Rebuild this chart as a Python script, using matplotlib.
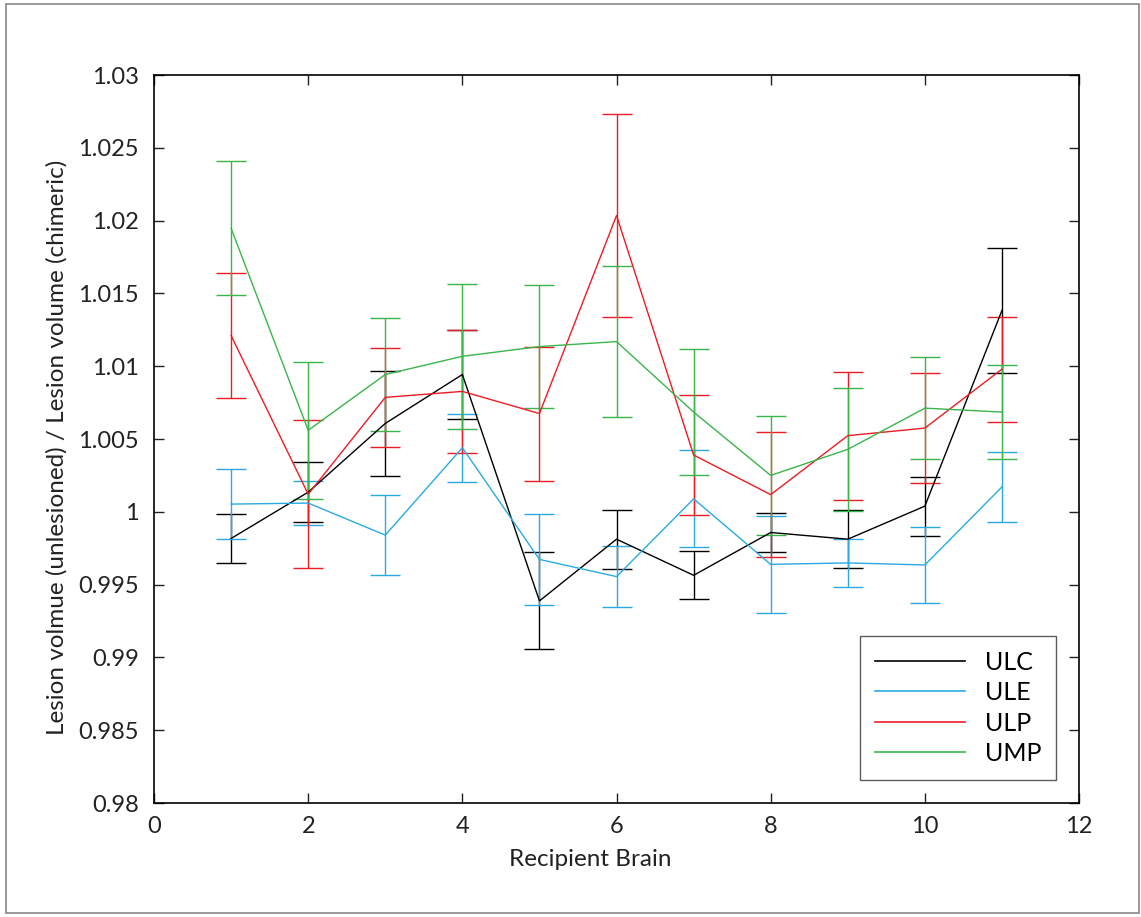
import numpy as np
import matplotlib
matplotlib.use("Agg")
import matplotlib.pyplot as plt
from matplotlib.patches import Rectangle
from matplotlib.lines import Line2D

plt.rcParams["font.family"] = ["Lato", "DejaVu Sans"]

# Data
brains = [1, 2, 3, 4, 5, 6, 7, 8, 9, 10, 11]

ulc = [0.99817, 1.00135, 1.00607, 1.00943, 0.99388, 0.99812, 0.99564, 0.99858, 0.99812, 1.00039, 1.01383]
ulc_err = [0.00166, 0.00208, 0.00363, 0.00304, 0.00333, 0.00202, 0.00166, 0.00135, 0.0020, 0.00203, 0.00432]

ule = [1.00053, 1.0006, 0.9984, 1.0044, 0.99673, 0.99555, 1.00089, 0.99639, 0.99649, 0.99635, 1.00171]
ule_err = [0.00243, 0.0015, 0.00275, 0.00233, 0.00312, 0.00212, 0.00333, 0.00333, 0.00163, 0.00264, 0.0024]

ulp = [1.0121, 1.00121, 1.00786, 1.00827, 1.00675, 1.02035, 1.0039, 1.00118, 1.00523, 1.00575, 1.0098]
ulp_err = [0.0043, 0.0051, 0.0034, 0.0042, 0.0046, 0.0070, 0.0041, 0.0043, 0.0044, 0.0038, 0.0036]

ump = [1.01947, 1.0056, 1.00943, 1.01068, 1.01135, 1.01169, 1.00685, 1.0025, 1.00429, 1.00712, 1.00685]
ump_err = [0.0046, 0.0047, 0.0039, 0.0050, 0.0042, 0.0052, 0.0043, 0.0041, 0.0042, 0.0035, 0.0032]

labels = ["ULC", "ULE", "ULP", "UMP"]
colors = ["#000000", "#29abe2", "#ed1c24", "#39b54a"]

fig = plt.figure(figsize=(11.41, 9.17), dpi=100)
ax = fig.add_axes([0.135, 0.1243, 0.8107, 0.7939])

series = [(ulc, ulc_err), (ule, ule_err), (ulp, ulp_err), (ump, ump_err)]
handles = []
for (vals, errs), lab, col in zip(series, labels, colors):
    ax.errorbar(brains, vals, yerr=errs, color=col, lw=1, elinewidth=1,
                capsize=10.5, capthick=1)
    handles.append(Line2D([], [], color=col, lw=1.2, label=lab))

ax.set_xlim(0, 12)
ax.set_ylim(0.98, 1.03)
ax.set_xticks(np.arange(0, 13, 2))
ax.set_yticks(np.arange(0.98, 1.0301, 0.005))
ax.set_yticklabels(["0.98", "0.985", "0.99", "0.995", "1", "1.005", "1.01",
                    "1.015", "1.02", "1.025", "1.03"])
ax.tick_params(direction="in", length=7, width=1, top=True, right=True,
               labelsize=17, pad=9, colors="#222222")
ax.tick_params(axis="y", pad=11)
for s in ax.spines.values():
    s.set_linewidth(1.2)

ax.set_xlabel("Recipient Brain", fontsize=17.5, color="#222222")
ax.set_ylabel("Lesion volmue (unlesioned) / Lesion volume (chimeric)",
              fontsize=17.5, color="#222222")
ax.xaxis.set_label_coords(0.4714, -0.063)
ax.yaxis.set_label_coords(-0.093, 0.489)

leg = ax.legend(handles=handles, loc="lower right", fontsize=18, frameon=True,
                fancybox=False, edgecolor="#333333", handlelength=3.6,
                handletextpad=0.8, borderpad=0.6, labelspacing=0.3,
                borderaxespad=0, bbox_to_anchor=(0.9751, 0.0316))
leg.get_frame().set_linewidth(1)

fig.patches.append(Rectangle((6 / 1141, 4 / 917), 1133 / 1141, 909 / 917,
                             transform=fig.transFigure, fill=False,
                             edgecolor="#888888", lw=1.2))

fig.savefig("out.png", dpi=100)
